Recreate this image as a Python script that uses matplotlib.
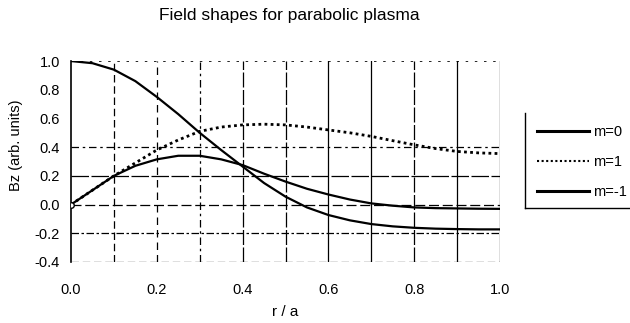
import matplotlib
matplotlib.use("Agg")
import matplotlib.pyplot as plt
from matplotlib.lines import Line2D

plt.rcParams['font.family'] = ['Liberation Sans', 'DejaVu Sans']

title = "Field shapes for parabolic plasma"
xlabel = "r / a"
ylabel = "Bz (arb. units)"
labels = ["m=0", "m=1", "m=-1"]

r = [0.00, 0.05, 0.10, 0.15, 0.20, 0.25, 0.30, 0.35, 0.40, 0.45, 0.50,
     0.55, 0.60, 0.65, 0.70, 0.75, 0.80, 0.85, 0.90, 0.95, 1.00]
m0 = [1.0, 0.985, 0.94, 0.86, 0.75, 0.63, 0.50, 0.38, 0.265, 0.15, 0.055,
      -0.02, -0.073, -0.11, -0.136, -0.152, -0.162, -0.168, -0.171, -0.173, -0.173]
m1 = [0.0, 0.10, 0.20, 0.29, 0.38, 0.45, 0.51, 0.54, 0.555, 0.56, 0.555,
      0.54, 0.52, 0.50, 0.475, 0.445, 0.416, 0.39, 0.37, 0.36, 0.355]
mm1 = [0.0, 0.10, 0.20, 0.27, 0.315, 0.34, 0.34, 0.315, 0.275, 0.215, 0.16,
       0.11, 0.07, 0.035, 0.008, -0.008, -0.02, -0.025, -0.027, -0.029, -0.03]

xticks = [0.0, 0.2, 0.4, 0.6, 0.8, 1.0]
yticks = [-0.4, -0.2, 0.0, 0.2, 0.4, 0.6, 0.8, 1.0]

fig = plt.figure(figsize=(6.3, 3.23), dpi=100)
ax = fig.add_axes([0.1127, 0.189, 0.6810, 0.622])
ax.set_xlim(0, 1.0)
ax.set_ylim(-0.4, 1.0)

# grid lines (scanned look)
hstyles = {0.4: (0, (6, 3, 2, 3)), 0.2: (0, (14, 2)), 0.0: (0, (8, 3)),
           -0.2: (0, (6, 2, 2, 2)), -0.4: (0, (6, 3))}
for y, ls in hstyles.items():
    ax.axhline(y, color='black', lw=0.9, ls=ls, zorder=1)
ax.axhline(1.0, color='black', lw=0.6, ls=(0, (3, 8)), zorder=1)
vstyles = {0.1: (0, (6, 3)), 0.2: (0, (6, 4)), 0.3: (0, (6, 3, 2, 3)),
           0.4: (0, (12, 2)), 0.5: (0, (12, 2)), 0.6: '-', 0.7: '-',
           0.8: (0, (12, 2)), 0.9: '-', 1.0: '-'}
for x, ls in vstyles.items():
    ax.axvline(x, color='black', lw=0.9, ls=ls, zorder=1)

ax.plot(r, m0, color='black', lw=1.6, zorder=3)
ax.plot(r, mm1, color='black', lw=1.6, zorder=3)
ax.plot(r, m1, color='black', lw=2.0, ls=(0, (1, 1.2)), zorder=3)
ax.plot([r[0]], [m1[0]], marker='o', ms=4, mfc='white', mec='black', zorder=4)

for s in ['top', 'right', 'bottom']:
    ax.spines[s].set_visible(False)
ax.spines['left'].set_linewidth(1.2)

ax.set_xticks(xticks)
ax.set_xticklabels([f"{v:.1f}" for v in xticks])
ax.set_yticks(yticks)
ax.set_yticklabels([f"{v:.1f}" for v in yticks])
ax.tick_params(axis='both', length=0, labelsize=10.5)
ax.tick_params(axis='x', pad=15)
ax.tick_params(axis='y', pad=8)

ax.set_xlabel(xlabel, fontsize=11)
ax.xaxis.set_label_coords(0.5, -0.215)
ax.set_ylabel(ylabel, fontsize=10.5)
ax.yaxis.set_label_coords(-0.112, 0.58)

fig.text(0.46, 0.953, title, ha='center', va='center', fontsize=12.5)

# legend (manual box with left and bottom border)
handles = [Line2D([], [], color='black', lw=2.2),
           Line2D([], [], color='black', lw=1.5, ls=(0, (1, 1.2))),
           Line2D([], [], color='black', lw=2.2)]
leg = fig.legend(handles, labels, loc='upper left', bbox_to_anchor=(0.843, 0.632),
                 frameon=False, fontsize=10.5, handlelength=3.6,
                 handletextpad=0.25, labelspacing=1.1, borderaxespad=0)
fig.add_artist(Line2D([0.833, 0.833], [0.356, 0.65], transform=fig.transFigure,
                      color='black', lw=1.0))
fig.add_artist(Line2D([0.833, 1.0], [0.356, 0.356], transform=fig.transFigure,
                      color='black', lw=1.0))

fig.savefig("out.png", dpi=100)
